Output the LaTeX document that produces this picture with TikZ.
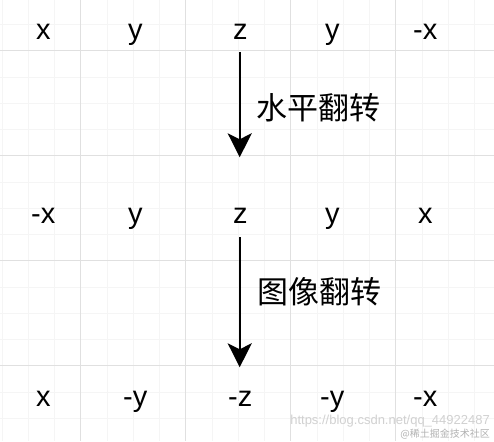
\documentclass[tikz,border=0pt]{standalone}
\usepackage{fontspec}
\setmainfont{Liberation Sans}
\newfontfamily\cjk{Noto Sans CJK SC}
\usetikzlibrary{positioning,arrows.meta}

\begin{document}
\begin{tikzpicture}[x=1pt,y=-1pt,node distance=92pt,on grid,
	cell/.style={font=\fontsize{29}{29}\selectfont,inner sep=0pt,
		text height=21pt,text depth=6pt},
	flipnote/.style={font=\cjk\fontsize{31}{31}\selectfont,inner sep=0pt,anchor=west},
	flow/.style={-{Stealth[length=24pt,width=24pt,inset=6pt]},line width=2pt},
	major/.style={draw=black!12,line width=0.8pt},
	minor/.style={draw=black!4,line width=0.6pt}]

		% background grid
		\useasboundingbox (0,0) rectangle (494,441);
		\fill[white] (0,0) rectangle (494,441);
		\begin{scope}
			\clip (0,0) rectangle (494,441);
			\foreach \i in {0,...,19}
				\draw[minor] ({1.95+26.25*\i},0) -- ({1.95+26.25*\i},441);
			\foreach \i in {0,...,17}
				\draw[minor] (0,{-1.8+26.25*\i}) -- (494,{-1.8+26.25*\i});
			\foreach \x in {80.7,185.7,290.7,395.7}
				\draw[major] (\x,0) -- (\x,441);
			\foreach \y in {50.7,155.7,260.7,365.7}
				\draw[major] (0,\y) -- (494,\y);
		\end{scope}

		% top row
		\node[cell] (top1) at (43.3,32.5) {x};
		\node[cell, right = 92pt of top1] (top2) {y};
		\node[cell, right = 105pt of top2] (top3) {z};
		\node[cell, right = 92pt of top3] (top4) {y};
		\node[cell, right = 93pt of top4] (top5) {-x};

		% middle row
		\node[cell, below = 183pt of top1] (mid1) {-x};
		\node[cell, below = 183pt of top2] (mid2) {y};
		\node[cell, below = 183pt of top3] (mid3) {z};
		\node[cell, below = 183pt of top4] (mid4) {y};
		\node[cell, below = 183pt of top5] (mid5) {x};

		% bottom row
		\node[cell, below = 183.5pt of mid1] (bot1) {x};
		\node[cell, below = 183.5pt of mid2] (bot2) {-y};
		\node[cell, below = 183.5pt of mid3] (bot3) {-z};
		\node[cell, below = 183.5pt of mid4] (bot4) {-y};
		\node[cell, below = 183.5pt of mid5] (bot5) {-x};

		% flips
		\coordinate (from1) at (239.7,52);
		\coordinate (to1) at (239.7,157.3);
		\coordinate (from2) at (239.7,237);
		\coordinate (to2) at (239.7,367.3);
		\draw[flow] (from1) -- (to1);
		\draw[flow] (from2) -- (to2);
		\node[flipnote] (hflip) at (256,108) {水平翻转};
		\node[flipnote] (iflip) at (257,291.5) {图像翻转};

		% watermark
		\node[font=\fontsize{13}{13}\selectfont,text=black!18,anchor=east,inner sep=0pt]
			(url) at (490,421) {https://blog.csdn.net/qq\_44922487};
		\node[font=\cjk\fontsize{10}{10}\selectfont,text=black!30,anchor=east,inner sep=0pt]
			(site) at (490,434.5) {@稀土掘金技术社区};
\end{tikzpicture}
\end{document}
